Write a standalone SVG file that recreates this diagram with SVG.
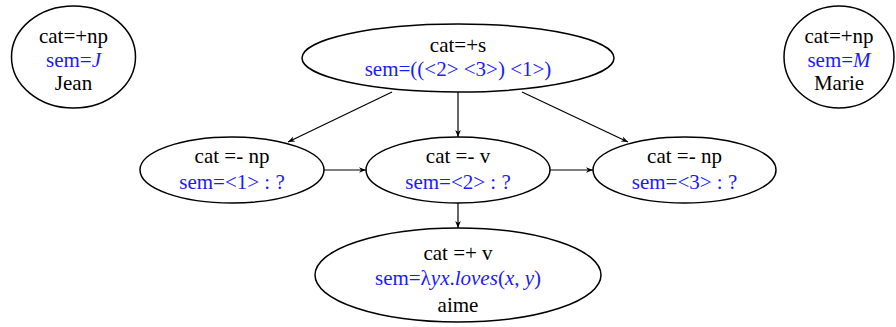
<svg xmlns="http://www.w3.org/2000/svg" width="896" height="327" viewBox="0 0 896 327">
<style>
.n{fill:#fff;stroke:#000;stroke-width:1.5}
.t text{text-anchor:middle;fill:#000}
.t .b{fill:#1a1aff}
.e{stroke:#000;stroke-width:1.2;fill:none;marker-end:url(#ah)}
</style>
<defs>
<marker id="ah" viewBox="0 0 10 10" refX="10" refY="5" markerWidth="7" markerHeight="7" orient="auto" markerUnits="userSpaceOnUse">
<path d="M0,1 L10,5 L0,9 L3,5 Z" fill="#000"/>
</marker>
</defs>
<g id="edges">
<line class="e" x1="392" y1="92" x2="288" y2="142"/>
<line class="e" x1="458" y1="92" x2="458" y2="137"/>
<line class="e" x1="522" y1="92" x2="628" y2="142"/>
<line class="e" x1="324" y1="170" x2="366" y2="170"/>
<line class="e" x1="550" y1="170" x2="593" y2="170"/>
<line class="e" x1="458" y1="203" x2="458" y2="228"/>
</g>
<g class="t" font-family="Liberation Serif, Times New Roman, serif" font-size="21">
<g id="jean">
<ellipse class="n" cx="73.5" cy="57" rx="62" ry="51"/>
<text x="73.5" y="43">cat=+np</text>
<text x="73.5" y="67" class="b">sem=<tspan font-style="italic">J</tspan></text>
<text x="73.5" y="90">Jean</text>
</g>
<g id="marie">
<ellipse class="n" cx="839" cy="57" rx="55" ry="51"/>
<text x="839" y="43">cat=+np</text>
<text x="839" y="67" class="b">sem=<tspan font-style="italic">M</tspan></text>
<text x="839" y="90">Marie</text>
</g>
<g id="s">
<ellipse class="n" cx="458" cy="58" rx="156" ry="34"/>
<text x="458" y="52">cat=+s</text>
<text x="458" y="76" class="b">sem=((&lt;2&gt; &lt;3&gt;) &lt;1&gt;)</text>
</g>
<g id="np1">
<ellipse class="n" cx="232" cy="170" rx="92" ry="33"/>
<text x="232" y="163">cat =- np</text>
<text x="232" y="189" class="b">sem=&lt;1&gt; : ?</text>
</g>
<g id="v">
<ellipse class="n" cx="458" cy="170" rx="92" ry="33"/>
<text x="458" y="163">cat =- v</text>
<text x="458" y="189" class="b">sem=&lt;2&gt; : ?</text>
</g>
<g id="np3">
<ellipse class="n" cx="684.5" cy="170" rx="91.5" ry="33"/>
<text x="684.5" y="163">cat =- np</text>
<text x="684.5" y="189" class="b">sem=&lt;3&gt; : ?</text>
</g>
<g id="aime">
<ellipse class="n" cx="458" cy="275" rx="143" ry="47"/>
<text x="458" y="260">cat =+ v</text>
<text x="458" y="285" class="b">sem=λ<tspan font-style="italic">yx</tspan>.<tspan font-style="italic">loves</tspan>(<tspan font-style="italic">x</tspan>, <tspan font-style="italic">y</tspan>)</text>
<text x="458" y="312">aime</text>
</g>
</g>
</svg>
